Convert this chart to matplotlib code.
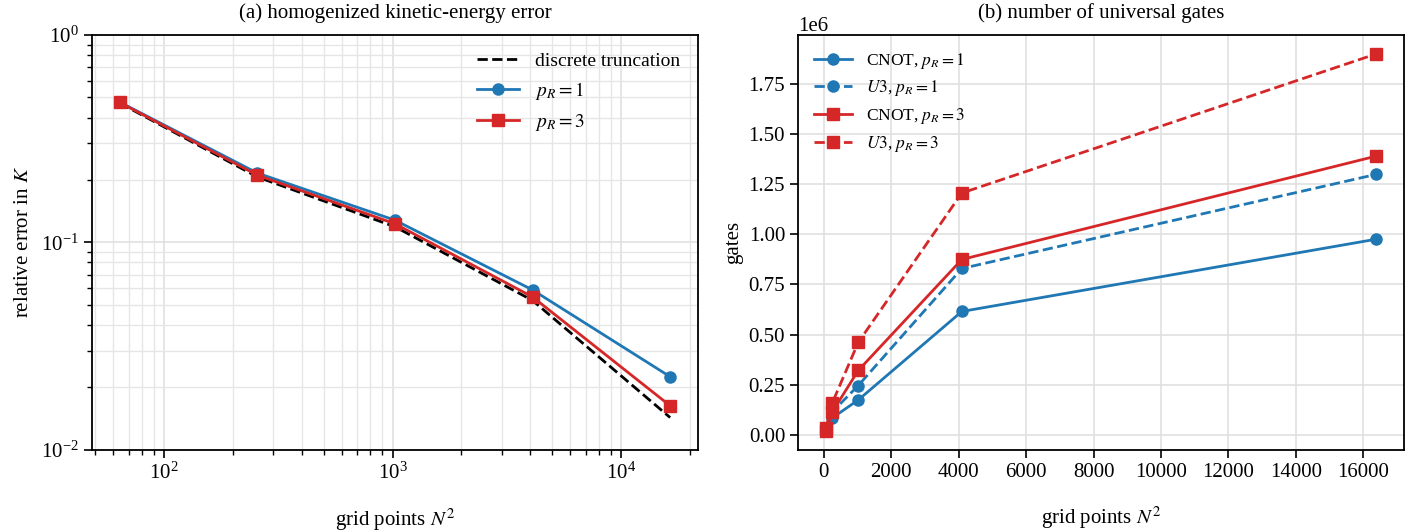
import matplotlib
matplotlib.use("Agg")
import matplotlib.pyplot as plt
import numpy as np

plt.rcParams['font.family'] = ['Liberation Serif', 'DejaVu Serif']
plt.rcParams['mathtext.fontset'] = 'stix'
plt.rcParams['font.size'] = 15

grid_points = [64, 256, 1024, 4096, 16384]

# (a) relative error in K
err_trunc = [0.470, 0.207, 0.119, 0.0525, 0.0143]
err_p1 = [0.475, 0.216, 0.128, 0.0590, 0.0225]
err_p3 = [0.473, 0.211, 0.123, 0.0546, 0.0163]

# (b) gate counts (in units of 1e6)
cnot_p1 = [0.020, 0.085, 0.174, 0.615, 0.975]
u3_p1 = [0.030, 0.115, 0.246, 0.829, 1.298]
cnot_p3 = [0.022, 0.115, 0.321, 0.874, 1.389]
u3_p3 = [0.032, 0.160, 0.461, 1.205, 1.898]

blue = '#1f77b4'
red = '#d62728'

fig = plt.figure(figsize=(14.18, 5.31), dpi=100)
ax1 = fig.add_axes([0.065, 0.153, 0.427, 0.781])
ax2 = fig.add_axes([0.563, 0.153, 0.427, 0.781])

for ax in (ax1, ax2):
    ax.tick_params(direction='out', which='major', length=6, width=1.2, labelsize=15)
    ax.tick_params(direction='out', which='minor', length=3.5, width=1.0)
    for s in ax.spines.values():
        s.set_linewidth(1.3)

ax1.plot(grid_points, err_trunc, 'k--', lw=2, label='discrete truncation')
ax1.plot(grid_points, err_p1, '-o', color=blue, lw=2, ms=8, label=r'$p_R = 1$')
ax1.plot(grid_points, err_p3, '-s', color=red, lw=2, ms=8, label=r'$p_R = 3$')
ax1.set_xscale('log')
ax1.set_yscale('log')
ax1.set_ylim(1e-2, 1)
ax1.grid(True, which='major', color='#e0e0e0', lw=1.2)
ax1.grid(True, which='minor', color='#e6e6e6', lw=1.0)
ax1.set_axisbelow(True)
ax1.set_xlabel(r'grid points $N^2$', fontsize=15, labelpad=16)
ax1.set_ylabel(r'relative error in $K$', fontsize=15, labelpad=6)
ax1.set_title('(a) homogenized kinetic-energy error', fontsize=15, pad=12)
ax1.legend(loc='upper right', frameon=False, fontsize=14, handlelength=2.2)

y = lambda v: np.array(v) * 1e6
ax2.plot(grid_points, y(cnot_p1), '-o', color=blue, lw=2, ms=8, label=r'CNOT, $p_R = 1$')
ax2.plot(grid_points, y(u3_p1), '--o', color=blue, lw=2, ms=8, label=r'$U3$, $p_R = 1$')
ax2.plot(grid_points, y(cnot_p3), '-s', color=red, lw=2, ms=8, label=r'CNOT, $p_R = 3$')
ax2.plot(grid_points, y(u3_p3), '--s', color=red, lw=2, ms=8, label=r'$U3$, $p_R = 3$')
ax2.set_xticks(np.arange(0, 16001, 2000))
ax2.grid(True, color='#e0e0e0', lw=1.2)
ax2.set_axisbelow(True)
ax2.yaxis.get_offset_text().set_fontsize(15)
ax2.set_xlabel(r'grid points $N^2$', fontsize=15, labelpad=16)
ax2.set_ylabel('gates', fontsize=15)
ax2.set_title('(b) number of universal gates', fontsize=15, pad=12)
ax2.legend(loc='upper left', frameon=False, fontsize=12.5, handlelength=2.2,
           labelspacing=0.45)

fig.savefig('out.png', dpi=100)
